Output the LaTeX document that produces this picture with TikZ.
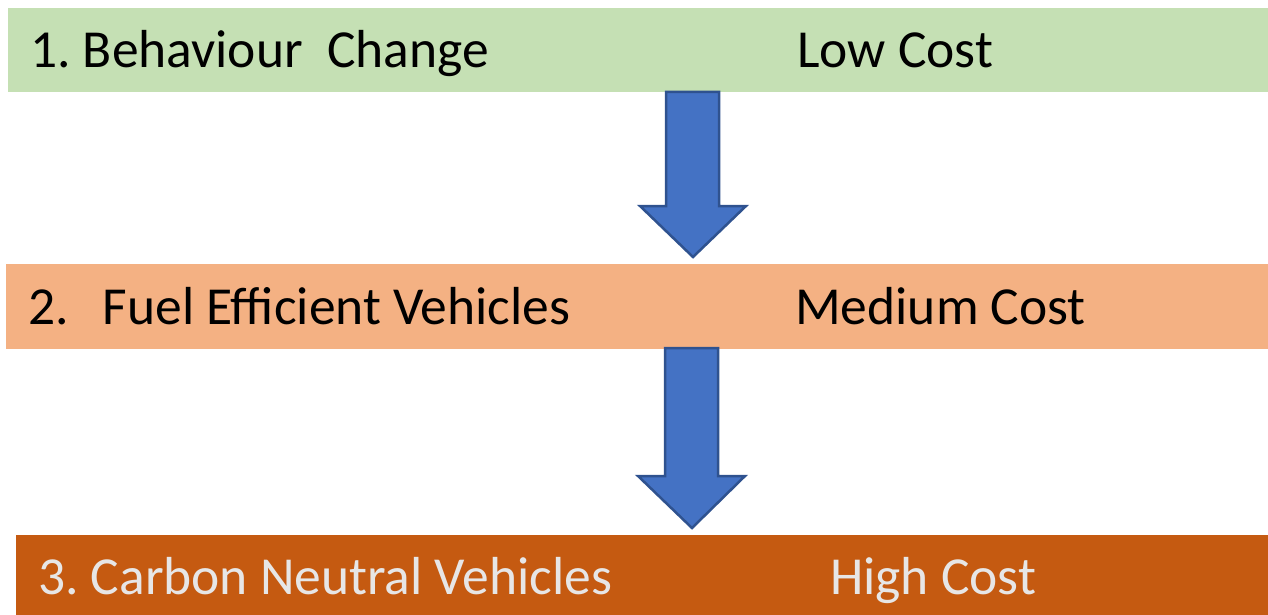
\documentclass[tikz,border=0pt]{standalone}
\usepackage{fontspec}
\setmainfont{Carlito}
\frenchspacing
\definecolor{barA}{HTML}{C5E0B4}
\definecolor{barB}{HTML}{F4B183}
\definecolor{barC}{HTML}{C55A11}
\definecolor{arrFill}{HTML}{4472C4}
\definecolor{arrLine}{HTML}{2F528F}
\definecolor{lightTxt}{HTML}{E7E6E6}
\begin{document}
\begin{tikzpicture}[x=1pt,y=-1pt,
  lbl/.style={anchor=base west,inner sep=0pt,font=\fontsize{53.5}{60}\selectfont},
  blockarrow/.style={fill=arrFill,draw=arrLine,line width=2.5pt,line join=miter}]
\useasboundingbox (0,0) rectangle (1268,615);
\fill[barA] (8,8) rectangle (1268,92);
\fill[barB] (6,264) rectangle (1268,349);
\fill[barC] (16,535) rectangle (1268,615);
\draw[blockarrow] (666,92) -- (719,92) -- (719,206) -- (746,206) -- (693,257) -- (640,206) -- (666,206) -- cycle;
\draw[blockarrow] (665,348) -- (718,348) -- (718,476) -- (745,476) -- (692,528) -- (638,476) -- (665,476) -- cycle;
\node[lbl] (t1) at (30,68) {1. Behaviour~~Change};
\node[lbl] (c1) at (797,68) {Low Cost};
\node[lbl] (t2) at (28,324) {2.\hspace{34pt}Fuel Efficient Vehicles};
\node[lbl] (c2) at (795,324) {Medium Cost};
\node[lbl,text=lightTxt] (t3) at (38,594) {3. Carbon Neutral Vehicles};
\node[lbl,text=lightTxt] (c3) at (830,594) {High Cost};
\end{tikzpicture}
\end{document}
